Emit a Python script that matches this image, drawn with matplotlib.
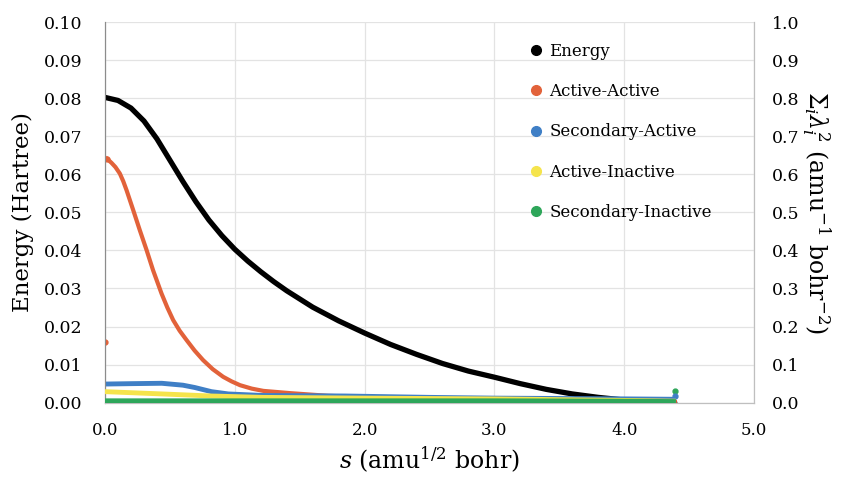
import numpy as np
import matplotlib
matplotlib.use("Agg")
import matplotlib.pyplot as plt
from matplotlib.lines import Line2D

plt.rcParams['font.family'] = 'DejaVu Serif'
plt.rcParams['mathtext.fontset'] = 'dejavuserif'

# energy (left axis, Hartree)
s_energy = [0.0, 0.1, 0.2, 0.3, 0.4, 0.5, 0.6, 0.7, 0.8, 0.9, 1.0, 1.1, 1.2, 1.3, 1.4,
            1.6, 1.8, 2.0, 2.2, 2.4, 2.6, 2.8, 3.0, 3.2, 3.4, 3.6, 3.8, 4.0, 4.2, 4.39]
energy = [0.0802, 0.0794, 0.0774, 0.0740, 0.0693, 0.0637, 0.0581, 0.0528, 0.0480, 0.0439,
          0.0403, 0.0372, 0.0344, 0.0318, 0.0294, 0.0251, 0.0215, 0.0183, 0.0153, 0.0127,
          0.0103, 0.0083, 0.0067, 0.0050, 0.0035, 0.0023, 0.0014, 0.0007, 0.0002, 0.0]

# sum lambda^2 (right axis)
s_aa = [0.0, 0.015, 0.05, 0.08, 0.114, 0.14, 0.166, 0.217, 0.268, 0.32, 0.37, 0.435, 0.48,
        0.525, 0.575, 0.627, 0.69, 0.755, 0.83, 0.91, 0.975, 1.04, 1.13, 1.22, 1.43, 1.72,
        2.0, 2.5, 3.0, 3.5, 4.0, 4.39]
active_active = [0.160, 0.641, 0.630, 0.619, 0.602, 0.582, 0.558, 0.506, 0.453, 0.401, 0.348,
                 0.287, 0.250, 0.217, 0.189, 0.165, 0.137, 0.112, 0.088, 0.068, 0.056, 0.046,
                 0.037, 0.031, 0.025, 0.018, 0.015, 0.012, 0.010, 0.007, 0.004, 0.002]

s_sa = [0.0, 0.2, 0.437, 0.6, 0.69, 0.82, 0.95, 1.21, 1.85, 2.5, 3.0, 3.5, 4.0, 4.38, 4.39]
secondary_active = [0.049, 0.050, 0.051, 0.046, 0.040, 0.029, 0.023, 0.019, 0.0176, 0.014,
                    0.012, 0.011, 0.010, 0.009, 0.018]

s_ai = [0.0, 0.44, 0.82, 1.21, 2.0, 3.0, 4.0, 4.38, 4.39]
active_inactive = [0.029, 0.023, 0.0176, 0.014, 0.012, 0.010, 0.006, 0.004, 0.0]

s_si = [0.0, 1.0, 2.0, 3.0, 4.0, 4.38, 4.39]
secondary_inactive = [0.005, 0.005, 0.005, 0.005, 0.004, 0.003, 0.031]

c_e, c_aa, c_sa, c_ai, c_si = "#000000", "#e2623a", "#3f7fc6", "#f5e44c", "#2ea65a"

fig = plt.figure(figsize=(8.43, 4.79), dpi=100)
ax = fig.add_axes([0.1246, 0.1593, 0.7698, 0.7947])
ax2 = ax.twinx()

ax.plot(s_energy, energy, color=c_e, lw=3.8, solid_capstyle='round', solid_joinstyle='round', zorder=5)

ax2.plot(s_si[:-1], secondary_inactive[:-1], color=c_si, lw=3.5, zorder=4)
ax2.plot(s_si[-1], secondary_inactive[-1], 'o', color=c_si, ms=3.5)
ax2.plot(s_ai[:-1], active_inactive[:-1], color=c_ai, lw=3.5, zorder=3)
ax2.plot(s_sa[:-1], secondary_active[:-1], color=c_sa, lw=3.5, zorder=2)
ax2.plot(s_sa[-1], secondary_active[-1], 'o', color=c_sa, ms=3.5)
ax2.plot(s_aa[1:], active_active[1:], color=c_aa, lw=3, solid_joinstyle='round', zorder=1)
ax2.plot(s_aa[0], active_active[0], 'o', color=c_aa, ms=3.5)
ax2.plot(s_aa[1], active_active[1], 'o', color=c_aa, ms=3.5)

ax.set_xlim(0, 5)
ax.set_ylim(0, 0.1)
ax2.set_ylim(0, 1.0)
ax.set_xticks(np.arange(0, 5.01, 1.0))
ax.set_xticklabels([f"{v:.1f}" for v in np.arange(0, 5.01, 1.0)])
ax.set_yticks(np.arange(0, 0.1001, 0.01))
ax.set_yticklabels([f"{v:.2f}" for v in np.arange(0, 0.1001, 0.01)])
ax2.set_yticks(np.arange(0, 1.001, 0.1))
ax2.set_yticklabels([f"{v:.1f}" for v in np.arange(0, 1.001, 0.1)])

ax.grid(True, color="#e3e3e3", lw=0.9)
ax.set_axisbelow(True)
for a in (ax, ax2):
    for sp in a.spines.values():
        sp.set_color("#bfbfbf")
    a.spines['left'].set_color("#8c8c8c")
    a.spines['top'].set_visible(False)
ax.tick_params(axis='y', length=0, labelsize=12.5, pad=16)
ax.tick_params(axis='x', length=0, labelsize=12, pad=14)
ax2.tick_params(axis='y', length=0, labelsize=12.5, pad=13)

ax.set_ylabel("Energy (Hartree)", fontsize=16.5, labelpad=7)
ax2.set_ylabel(r"$\Sigma_i\lambda_i^2$ (amu$^{-1}$ bohr$^{-2}$)", fontsize=17, rotation=270, labelpad=24)
ax.set_xlabel(r"$s$ (amu$^{1/2}$ bohr)", fontsize=17, labelpad=4)

handles = [Line2D([], [], ls='none', marker='o', ms=7, color=c) for c in (c_e, c_aa, c_sa, c_ai, c_si)]
labels = ["Energy", "Active-Active", "Secondary-Active", "Active-Inactive", "Secondary-Inactive"]
ax2.legend(handles, labels, loc='upper left', bbox_to_anchor=(0.628, 0.985), frameon=False,
           fontsize=12, labelspacing=1.4, handletextpad=0.3, handlelength=1.0)

fig.savefig("out.png", dpi=100)
